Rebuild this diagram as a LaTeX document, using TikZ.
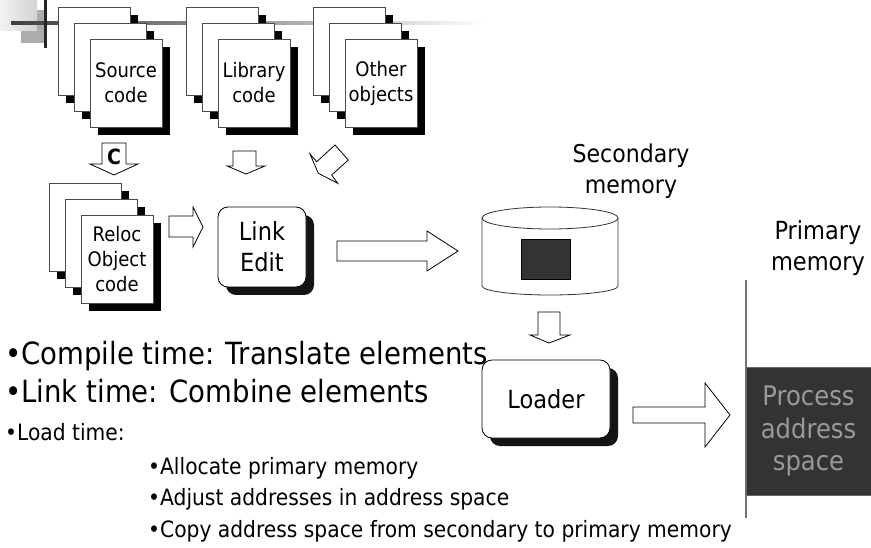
\documentclass[tikz,border=0pt]{standalone}
\usepackage{fontspec}
\setmainfont{DejaVu Sans}[FakeStretch=0.9]
\definecolor{shadowc}{HTML}{141414}
\definecolor{darkfill}{HTML}{333333}
\definecolor{proctext}{HTML}{999999}
\newcommand\docstack[4]{%
  \foreach \i in {0,16}{%
    \fill[black] ({#2+\i+8},{#3+\i+8}) rectangle ++(72,88);
    \draw[pagebox] ({#2+\i},{#3+\i}) rectangle ++(72,88);
  }
  \fill[black] ({#2+40},{#3+40}) rectangle ++(72,88);
  \node[pagenode] (#1) at ({#2+68},{#3+76}) {#4};
}
\begin{document}
\begin{tikzpicture}[x=1pt,y=-1pt,
  pagebox/.style={draw=black!70, line width=0.8pt, fill=white},
  pagenode/.style={pagebox, minimum width=72pt, minimum height=88pt, inner sep=0pt, align=center, font=\fontsize{20}{25}\selectfont},
  blockarrow/.style={draw=black, line width=0.8pt, fill=white, line join=miter},
  rbox/.style={draw=black, line width=0.8pt, fill=white, rounded corners=10pt, align=center, inner sep=0pt},
  bigtxt/.style={anchor=base west, inner sep=0pt, font=\fontsize{30.6}{36}\selectfont},
  smalltxt/.style={anchor=base west, inner sep=0pt, font=\fontsize{22.5}{27}\selectfont},
  lbl/.style={align=center, inner sep=0pt, font=\fontsize{24.5}{31}\selectfont}
]
\useasboundingbox (0,0) rectangle (871,548);
\fill[white] (0,0) rectangle (871,548);
% decoration top-left
\fill[gray!65] (21,10) rectangle (45,43);
\shade[left color=gray!10, right color=gray!35] (0,0) rectangle (37,31);
\shade[left color=black!75, right color=white, middle color=gray!80] (11,21.5) rectangle (485,24.5);
\draw[black!85, line width=3pt] (45,0) -- (45,48);
% document stacks
\docstack{src}{58}{7}{Source\\code}
\docstack{lib}{186}{7}{Library\\code}
\docstack{oth}{313}{7}{Other\\objects}
\docstack{rel}{49}{183}{Reloc\\Object\\code}
% arrows into the linker
\draw[blockarrow] (102,143) -- (126,143) -- (126,164) -- (138,164) -- (114,175) -- (90,164) -- (102,164) -- cycle;
\node[font=\bfseries\fontsize{21}{25}\selectfont, inner sep=0pt, anchor=base] (c) at (114,165) {C};
\draw[blockarrow] (233,151) -- (256,151) -- (256,166) -- (265,166) -- (246,174) -- (227,166) -- (233,166) -- cycle;
\draw[blockarrow] (335,145) -- (348.3,160) -- (331.7,175) -- (337.7,183.3) -- (318.3,173.3) -- (310,154) -- (316.7,161.7) -- cycle;
\draw[blockarrow] (169,216) -- (193,216) -- (193,207) -- (203,227) -- (193,247) -- (193,237) -- (169,237) -- cycle;
% link edit
\fill[shadowc, rounded corners=10pt] (226,215) rectangle (314,295);
\node[rbox, minimum width=88pt, minimum height=80pt, font=\fontsize{25}{31}\selectfont] (link) at (262,247) {Link\\Edit};
\draw[blockarrow] (337,241) -- (427,241) -- (427,231) -- (458,251) -- (427,271) -- (427,261) -- (337,261) -- cycle;
% disk
\coordinate (disk) at (550,252);
\draw[fill=white, draw=black!80, line width=0.8pt] (482,218) -- (482,286) arc[start angle=180, end angle=0, x radius=68, y radius=9] -- (618,218);
\draw[fill=white, draw=black!80, line width=0.8pt] (550,218) ellipse [x radius=68, y radius=11];
\fill[darkfill, draw=black] (521,239) rectangle (570,279);
\node[lbl] (sec) at (631,171) {Secondary\\memory};
\draw[blockarrow] (538,312) -- (560,312) -- (560,335) -- (570,335) -- (549,343) -- (530,335) -- (538,335) -- cycle;
% loader
\fill[shadowc, rounded corners=10pt] (490,368) rectangle (618,446);
\node[rbox, minimum width=128pt, minimum height=78pt, font=\fontsize{25}{31}\selectfont] (loader) at (546,399) {Loader};
\draw[blockarrow] (633,407) -- (705,407) -- (705,383) -- (730,415) -- (705,447) -- (705,423) -- (633,423) -- cycle;
% primary memory
\node[lbl, font=\fontsize{25}{31}\selectfont] (prim) at (818,248) {Primary\\memory};
\draw[gray!90!black, line width=1.5pt] (746,280) -- (746,518);
\node[fill=darkfill, draw=black!60, minimum width=125pt, minimum height=128pt, inner sep=0pt, align=center, text=proctext, font=\fontsize{27}{32.5}\selectfont] (proc) at (808.5,431) {Process\\address\\space};
% text
\node[bigtxt] (t1) at (5,365) {•Compile time: Translate elements};
\node[bigtxt] (t2) at (5,402) {•Link time: Combine elements};
\node[smalltxt] (t3) at (5,440) {•Load time:};
\node[smalltxt] (t4) at (148,474) {•Allocate primary memory};
\node[smalltxt] (t5) at (148,505) {•Adjust addresses in address space};
\node[smalltxt] (t6) at (148,537) {•Copy address space from secondary to primary memory};
\end{tikzpicture}
\end{document}
